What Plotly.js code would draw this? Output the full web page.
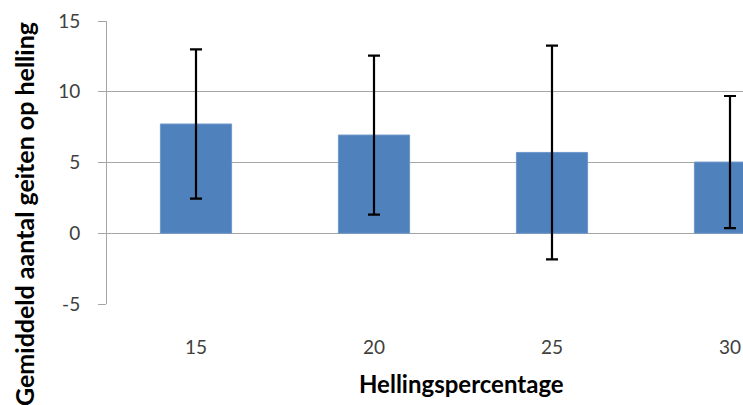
<!DOCTYPE html>
<html>
<head>
<meta charset="utf-8">
<script src="https://cdn.plot.ly/plotly-3.0.1.min.js"></script>
<style>
html,body{margin:0;padding:0;overflow:hidden;width:743px;height:405px;background:#fff;}
#chart{width:819px;height:405px;}
</style>
</head>
<body>
<div id="chart"></div>
<script>
var categories = ['15', '20', '25', '30'];
var meanValues = [7.72, 6.94, 5.71, 5.03];
var errorValues = [5.28, 5.62, 7.55, 4.67];
var yTickValues = [-5, 0, 5, 10, 15];
var xTitle = 'Hellingspercentage';
var yTitle = 'Gemiddeld aantal geiten op helling';

var W = 819, H = 405, L = 107, R = 0, T = 21, B = 101;
var pw = W - L - R, ph = H - T - B;
function px(x) { return (x - L) / pw; }
function py(y) { return (H - B - y) / ph; }

var trace = {
  type: 'bar',
  x: categories,
  y: meanValues,
  marker: {color: '#4F81BD', line: {color: '#6F97C9', width: 1}},
  error_y: {type: 'data', array: errorValues, visible: true, color: '#000000', thickness: 2.2, width: 6}
};

var layout = {
  width: W, height: H,
  margin: {l: L, r: R, t: T, b: B},
  paper_bgcolor: '#ffffff', plot_bgcolor: '#ffffff',
  bargap: 0.6,
  showlegend: false,
  font: {family: 'Lato, "Open Sans", sans-serif', color: '#404040'},
  xaxis: {
    type: 'category',
    showgrid: false, zeroline: false, showline: false,
    ticks: '', ticklabelstandoff: 30,
    tickfont: {size: 19, color: '#404040'}
  },
  yaxis: {
    range: [-5, 15],
    tickvals: yTickValues,
    ticktext: yTickValues.map(String),
    showgrid: true, gridcolor: '#A6A6A6', gridwidth: 1,
    zeroline: false,
    showline: true, linecolor: '#A6A6A6', linewidth: 1,
    ticks: 'outside', ticklen: 8, tickcolor: '#A6A6A6',
    ticklabelstandoff: 14,
    tickfont: {size: 19, color: '#404040'}
  },
  annotations: [
    {text: xTitle, xref: 'paper', yref: 'paper', x: px(461), y: py(383),
     xanchor: 'center', yanchor: 'middle', showarrow: false,
     font: {size: 24, color: '#000000', family: 'Lato, sans-serif', weight: 'bold'}},
    {text: yTitle, xref: 'paper', yref: 'paper', x: px(24), y: py(214),
     xanchor: 'center', yanchor: 'middle', showarrow: false, textangle: -90,
     font: {size: 25, color: '#000000', family: 'Lato, sans-serif', weight: 'bold'}}
  ]
};

Plotly.newPlot('chart', [trace], layout, {displayModeBar: false, staticPlot: true});
</script>
</body>
</html>
